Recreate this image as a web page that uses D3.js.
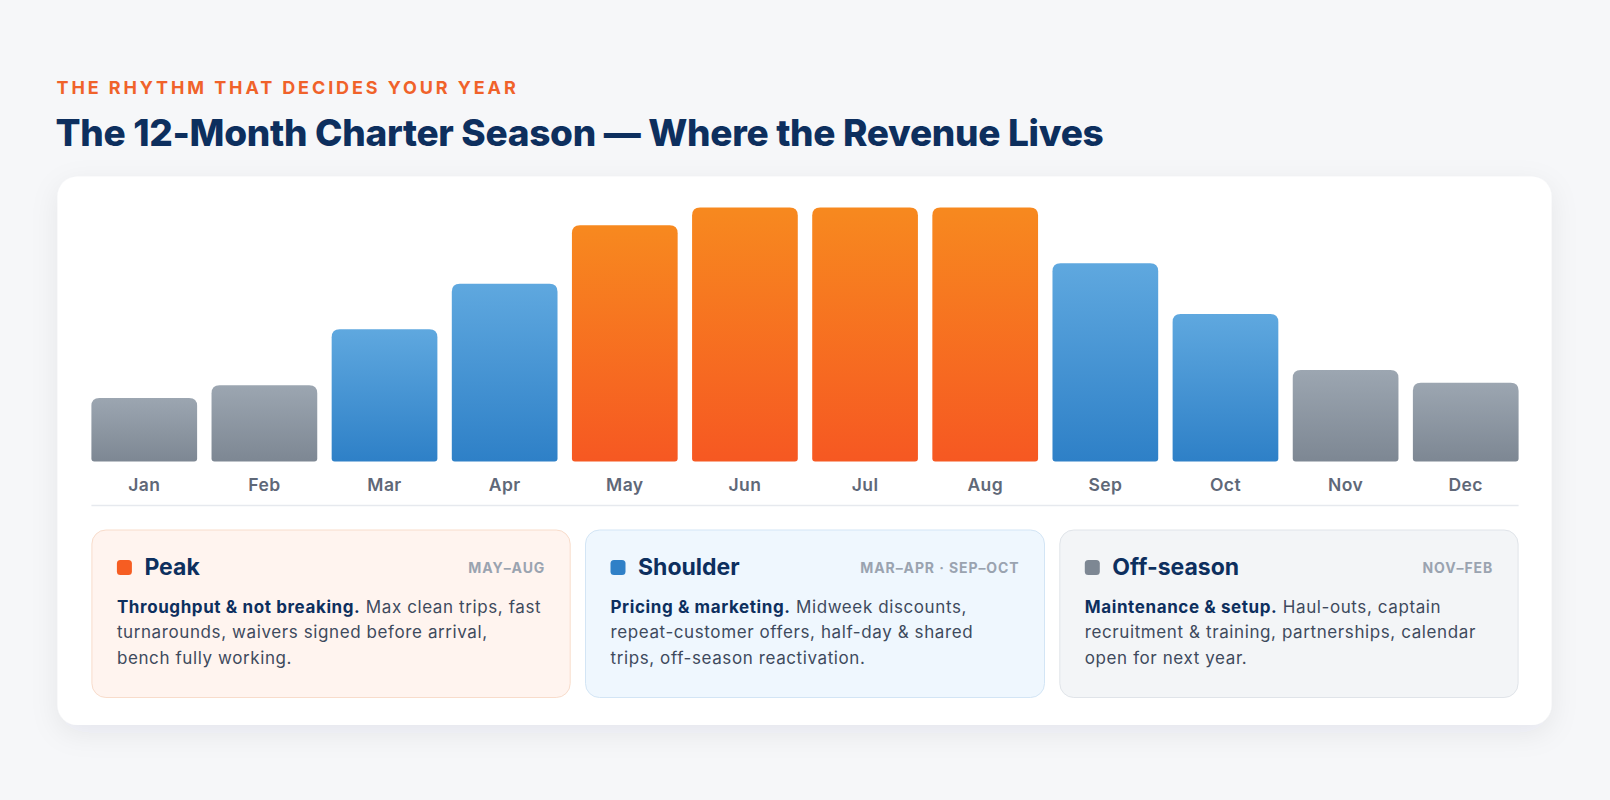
<!DOCTYPE html>
<html>
<head>
<meta charset="utf-8">
<script src="https://cdn.jsdelivr.net/npm/d3@7"></script>
<style>
  html, body { margin: 0; padding: 0; background: #f6f7f9; }
  svg { display: block; font-family: Inter, "Noto Sans", sans-serif; }
</style>
</head>
<body>
<svg id="chart"></svg>
<script>
// data
var months = ["Jan","Feb","Mar","Apr","May","Jun","Jul","Aug","Sep","Oct","Nov","Dec"];
var revenue = [25, 30, 52, 70, 93, 100, 100, 100, 78, 58, 36, 31];
var season = ["off","off","shoulder","shoulder","peak","peak","peak","peak","shoulder","shoulder","off","off"];

var legendKeys = ["peak","shoulder","off"];
var legendTitles = ["Peak","Shoulder","Off-season"];
var legendRanges = ["MAY–AUG","MAR–APR · SEP–OCT","NOV–FEB"];
var legendLead = ["Throughput & not breaking.","Pricing & marketing.","Maintenance & setup."];
var legendLines = [
  [" Max clean trips, fast","turnarounds, waivers signed before arrival,","bench fully working."],
  [" Midweek discounts,","repeat-customer offers, half-day & shared","trips, off-season reactivation."],
  [" Haul-outs, captain","recruitment & training, partnerships, calendar","open for next year."]
];

// colours
var navy = "#0d2f5e",
    ink = "#3e4a5d",
    muted = "#9aa3b0",
    monthGrey = "#5f6878";
var grad = {
  peak: ["#f7891f","#f65822"],
  shoulder: ["#5fa8df","#2e80c7"],
  off: ["#9ca6b1","#7d8793"]
};
var chip = {peak:"#f65d22", shoulder:"#2f80c7", off:"#7d8793"};
var cardFill = {peak:"#fff4ef", shoulder:"#eff7fe", off:"#f3f5f7"};
var cardStroke = {peak:"#f8dccb", shoulder:"#d3e5f5", off:"#e0e4e9"};

var W = 1610, H = 800;
var svg = d3.select("#chart").attr("width", W).attr("height", H);
var defs = svg.append("defs");

Object.keys(grad).forEach(function(k){
  var g = defs.append("linearGradient").attr("id","g-"+k)
    .attr("x1",0).attr("y1",0).attr("x2",0).attr("y2",1);
  g.append("stop").attr("offset","0%").attr("stop-color",grad[k][0]);
  g.append("stop").attr("offset","100%").attr("stop-color",grad[k][1]);
});

var shadow = defs.append("filter").attr("id","shadow")
  .attr("x","-10%").attr("y","-10%").attr("width","120%").attr("height","130%");
shadow.append("feDropShadow").attr("dx",0).attr("dy",8).attr("stdDeviation",14)
  .attr("flood-color","#14284a").attr("flood-opacity",0.07);

// headings
svg.append("text")
  .attr("x",56.5).attr("y",93.5)
  .attr("fill","#f0622a")
  .style("font-size","18px").style("font-weight",700).style("letter-spacing","2.9px")
  .text("THE RHYTHM THAT DECIDES YOUR YEAR");

svg.append("text")
  .attr("x",55.5).attr("y",146)
  .attr("fill",navy)
  .style("font-size","37px").style("font-weight",800).style("letter-spacing","-0.3px")
  .text("The 12-Month Charter Season — Where the Revenue Lives");

// card
svg.append("rect")
  .attr("x",57.5).attr("y",176.5).attr("width",1494).attr("height",548.5)
  .attr("rx",20).attr("fill","#fff").attr("filter","url(#shadow)");

// scales
var plot = {left: 91.4, right: 1518.6, top: 207.4, bottom: 461.5};
var x = d3.scaleBand().domain(months).range([plot.left, plot.right])
  .paddingInner(0.12).paddingOuter(0);
var y = d3.scaleLinear().domain([0,100]).range([plot.bottom, plot.top]);

function barPath(x0, y0, w, h, rt, rb){
  var x1 = x0 + w, y1 = y0 + h;
  return "M"+x0+","+(y0+rt)
    +"Q"+x0+","+y0+" "+(x0+rt)+","+y0
    +"L"+(x1-rt)+","+y0
    +"Q"+x1+","+y0+" "+x1+","+(y0+rt)
    +"L"+x1+","+(y1-rb)
    +"Q"+x1+","+y1+" "+(x1-rb)+","+y1
    +"L"+(x0+rb)+","+y1
    +"Q"+x0+","+y1+" "+x0+","+(y1-rb)+"Z";
}

var data = months.map(function(m,i){ return {m:m, v:revenue[i], s:season[i]}; });

svg.append("g").selectAll(".bar")
  .data(data)
  .enter().append("path")
  .attr("class","bar")
  .attr("d",function(d){ return barPath(x(d.m), y(d.v), x.bandwidth(), y(0)-y(d.v), 8, 3); })
  .attr("fill",function(d){ return "url(#g-"+d.s+")"; });

// month axis
var xAxis = svg.append("g")
  .attr("transform","translate(0,"+plot.bottom+")")
  .call(d3.axisBottom(x).tickSize(0).tickPadding(17));
xAxis.select(".domain").remove();
xAxis.selectAll("text")
  .attr("fill",monthGrey)
  .style("font-family","Inter, sans-serif")
  .style("font-size","17.5px").style("font-weight",600).style("letter-spacing","0.4px");

svg.append("line")
  .attr("x1",plot.left).attr("x2",plot.right)
  .attr("y1",505.5).attr("y2",505.5)
  .attr("stroke","#e6e9ee").attr("stroke-width",1.5);

// legend cards
var cardX = [91.4, 585, 1059.3],
    cardW = [479.3, 460, 459.3],
    cardTop = 529.5, cardH = 167.5;

var cards = svg.append("g").selectAll(".legendcard")
  .data(legendKeys)
  .enter().append("g")
  .attr("class","legendcard")
  .attr("transform",function(d,i){ return "translate("+cardX[i]+","+cardTop+")"; });

cards.append("rect")
  .attr("x",0.5).attr("y",0.5)
  .attr("width",function(d,i){ return cardW[i]-1; })
  .attr("height",cardH)
  .attr("rx",14)
  .attr("fill",function(d){ return cardFill[d]; })
  .attr("stroke",function(d){ return cardStroke[d]; });

cards.append("rect")
  .attr("x",25.5).attr("y",30.5).attr("width",15).attr("height",15).attr("rx",3.5)
  .attr("fill",function(d){ return chip[d]; });

cards.append("text")
  .attr("x",53).attr("y",45.5)
  .attr("fill",navy)
  .style("font-size","23px").style("font-weight",700)
  .text(function(d,i){ return legendTitles[i]; });

cards.append("text")
  .attr("x",function(d,i){ return cardW[i]-25.5; })
  .attr("y",43)
  .attr("text-anchor","end")
  .attr("fill",muted)
  .style("font-size","14px").style("font-weight",700).style("letter-spacing","0.9px")
  .text(function(d,i){ return legendRanges[i]; });

cards.each(function(d,i){
  var t = d3.select(this).append("text")
    .attr("x",25.5).attr("y",83)
    .style("font-size","17px").style("letter-spacing","0.6px");
  var first = t.append("tspan").attr("x",25.5).attr("y",83);
  first.append("tspan").attr("fill",navy).style("font-weight",700).text(legendLead[i]);
  first.append("tspan").attr("fill",ink).style("font-weight",400).text(legendLines[i][0]);
  legendLines[i].slice(1).forEach(function(line,j){
    t.append("tspan").attr("x",25.5).attr("y",83+25.7*(j+1))
      .attr("fill",ink).text(line);
  });
});
</script>
</body>
</html>
